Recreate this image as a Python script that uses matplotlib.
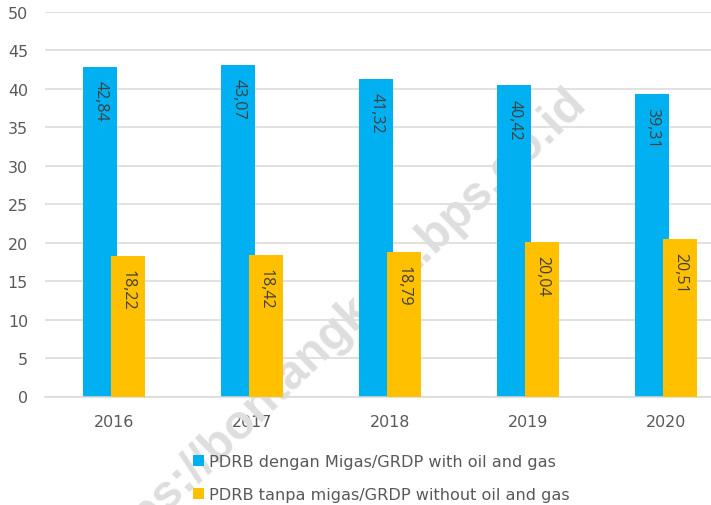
import matplotlib
matplotlib.use("Agg")
import matplotlib.pyplot as plt
from matplotlib.patches import Patch
import numpy as np

# Data
years = ["2016", "2017", "2018", "2019", "2020"]
with_oil_gas = [42.84, 43.07, 41.32, 40.42, 39.31]
without_oil_gas = [18.22, 18.42, 18.79, 20.04, 20.51]
series_labels = ["PDRB dengan Migas/GRDP with oil and gas",
                 "PDRB tanpa migas/GRDP without oil and gas"]
y_ticks = list(range(0, 55, 5))
watermark = "https://bontangkota.bps.go.id"

BLUE = "#00B0F0"
GOLD = "#FFC000"
TEXT = "#595959"

W, H = 711, 506
plt.rcParams["font.family"] = ["DejaVu Sans"]
fig = plt.figure(figsize=(W / 100, H / 100), dpi=100)
ax = fig.add_axes([45 / W, (H - 397.5) / H, 690 / W, (397.5 - 12.7) / H])

x = np.arange(len(years))
bw = 0.25
b1 = ax.bar(x - 0.1, with_oil_gas, bw, color=BLUE, zorder=2)
b2 = ax.bar(x + 0.1, without_oil_gas, bw, color=GOLD, zorder=3)

for bars, vals in ((b1, with_oil_gas), (b2, without_oil_gas)):
    for rect, v in zip(bars, vals):
        ax.annotate(f"{v:.2f}".replace(".", ","),
                    (rect.get_x() + rect.get_width() / 2, v),
                    xytext=(0, -9.5), textcoords="offset points",
                    rotation=-90, ha="center", va="top",
                    fontsize=11.5, family="Open Sans",
                    color="#404040", zorder=4)

ax.set_xlim(-0.5, 4.5)
ax.set_ylim(0, 50)
ax.set_yticks(y_ticks)
ax.set_xticks(x, years)
ax.grid(axis="y", color="#d9d9d9", lw=1.1)
ax.grid(axis="x", visible=False)
ax.set_axisbelow(True)
for s in ["top", "right", "left"]:
    ax.spines[s].set_visible(False)
ax.spines["bottom"].set_color("#d9d9d9")
ax.spines["bottom"].set_linewidth(1.1)
ax.tick_params(length=0, labelsize=11.4, labelcolor=TEXT)
ax.tick_params(axis="y", pad=12.3)
ax.tick_params(axis="x", pad=12.3)

# faint site watermark behind the bars
ax.text(336 / W, (H - 330) / H, watermark, transform=fig.transFigure,
        rotation=44, rotation_mode="anchor", ha="center", va="center",
        fontsize=34.6, fontweight="bold", family="Liberation Sans",
        color="#dedede", zorder=0.8, clip_on=False)

handles = [Patch(facecolor=BLUE), Patch(facecolor=GOLD)]
ax.legend(handles, series_labels, loc="center left",
          bbox_to_anchor=(193 / W, 27 / H), bbox_transform=fig.transFigure,
          frameon=False, fontsize=11.6, labelcolor=TEXT,
          handlelength=0.68, handleheight=0.68, handletextpad=0.33,
          labelspacing=1.12, borderpad=0, borderaxespad=0)

fig.savefig("out.png", dpi=100)
